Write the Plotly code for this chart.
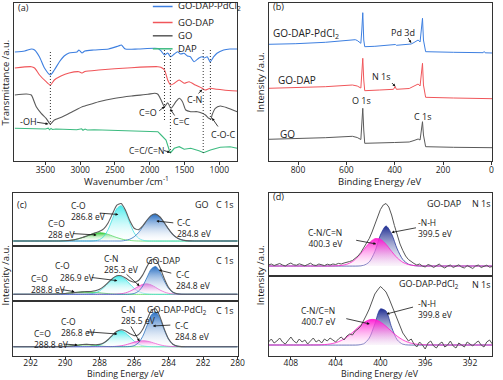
import plotly.graph_objects as go

W, H = 503, 380
FONT = "Open Sans"
INK = "#222222"

# ---------------- (a) FTIR ----------------
WN_PD = [3940, 3798, 3699, 3656, 3585, 3514, 3430, 3372, 3301, 3231, 3160, 3046, 3018, 2975, 2933,
         2805, 2592, 2451, 2408, 2351, 2167, 1883, 1841, 1788, 1742, 1699, 1647, 1600, 1557, 1505,
         1458, 1416, 1363, 1292, 1245, 1217, 1174, 1132, 1079, 1033, 938, 848, 742]
T_PD = [109, 110, 112, 111, 104, 93, 86, 91, 99, 105, 108, 109, 111, 108, 110,
        111, 112, 115, 116, 112, 112, 112.5, 110.3, 106, 108, 104.3, 107, 109.3, 107, 107.7,
        105, 104.3, 99.3, 103, 104.3, 103, 104.3, 99.3, 104.3, 107.7, 111, 112, 112]

WN_GODAP = [3940, 3703, 3656, 3585, 3490, 3430, 3372, 3277, 3160, 3018, 2971, 2933, 2734, 2266, 1883,
            1841, 1788, 1742, 1699, 1647, 1576, 1505, 1434, 1345, 1245, 1203, 1132, 1033, 938, 742]
T_GODAP = [93, 94.3, 93, 86, 79.3, 76, 81, 85, 88, 89.3, 88, 89.5, 91, 93.3, 94.3,
           93.7, 91, 81, 76, 77.7, 81, 77.7, 79.3, 76, 72.7, 71, 72.7, 71.7, 71, 70]

WN_GO = [3940, 3774, 3703, 3680, 3632, 3561, 3490, 3430, 3372, 3255, 3113, 2971, 2933, 2734, 2497,
         2262, 2025, 1930, 1883, 1837, 1788, 1742, 1695, 1624, 1576, 1529, 1482, 1411, 1316, 1245,
         1199, 1150, 1118, 1104, 1057, 986, 891, 742]
T_GO = [66, 67, 66, 62.7, 54.3, 47.7, 42.7, 37, 41, 44.3, 49.3, 54.3, 55, 59.3, 62.7,
        65, 66.7, 67.7, 66.7, 61, 54.3, 58.3, 52.7, 59.3, 62.7, 59.3, 51, 49.3, 49.3, 47.7,
        46, 42.7, 42, 46, 52.7, 55, 53.3, 49.3]

WN_DAP = [3940, 3800, 3650, 3500, 3460, 3440, 3420, 3400, 3350, 3200, 3050, 2980, 2960, 2930, 2900,
          2800, 2600, 2400, 2200, 2025, 1883, 1837, 1766, 1720, 1700, 1647, 1576, 1505, 1411, 1292,
          1225, 1127, 986, 844, 742]
T_DAP = [32.7, 32.5, 32.3, 32, 32.8, 31.2, 32.6, 31.5, 32, 31.8, 31.2, 32.2, 30.8, 31.9, 31.0,
         31.3, 31.0, 30.6, 30.2, 29.5, 29.3, 26, 21, 11, 8.3, 12.7, 14.3, 11.7, 12.7, 10.3,
         8.3, 11, 13.7, 14.3, 12.7]

BAND_WN = [3429, 1788, 1703, 1231, 1128]
BAND_TOP = [111, 113, 113, 113, 111]
BAND_BOTTOM = [36, 41, 8, 8, 41]

# ---------------- (b) XPS survey ----------------
BE_S_PD = [922, 809, 687, 584, 563, 555, 540, 536, 532, 528, 524, 482, 401, 397, 393,
           340, 332, 320, 303, 295, 289, 285, 281, 272, 156, 34, 30, 26, -4]
I_S_PD = [116.7, 117.3, 118.7, 120.7, 121.3, 120.5, 117.7, 131, 148.3, 121, 114.3, 114.7, 115.7, 116.5, 115.7,
          116.5, 117, 118.5, 121, 119, 131, 142.7, 121, 109.3, 108.7, 108.3, 109.5, 108.2, 108]

BE_S_GODAP = [922, 809, 687, 575, 555, 540, 536, 532, 528, 524, 462, 405, 398, 393, 340,
              320, 303, 295, 289, 285, 281, 272, 156, -4]
I_S_GODAP = [72.7, 73.3, 74.3, 76, 75, 73, 86, 102.7, 81, 70.3, 71, 71.7, 74.5, 71.7, 72.5,
             75, 77, 75, 86, 97.7, 76, 63.7, 63, 62.3]

BE_S_GO = [922, 809, 687, 575, 555, 540, 536, 532, 528, 524, 401, 340, 320, 303, 295,
           289, 285, 281, 272, 156, -4]
I_S_GO = [21.7, 22.3, 23.3, 24.7, 23.5, 21.5, 36, 52.7, 31, 17.7, 18.5, 19, 20.5, 22, 21,
          31, 39.3, 26, 14.3, 13.7, 13.3]

# ---------------- (c) C 1s ----------------
BE_C = [293.0, 292.0, 291.0, 290.5, 290.0, 289.5, 289.0, 288.75, 288.5, 288.25, 288.0, 287.75,
        287.5, 287.25, 287.0, 286.75, 286.5, 286.25, 286.0, 285.75, 285.5, 285.25, 285.0, 284.75,
        284.5, 284.25, 284.0, 283.75, 283.5, 283.25, 283.0, 282.5, 282.0, 281.0, 280.0]

GO_CdO = [0, 0, 0, 0.03, 0.24, 1.1, 3.4, 5.0, 6.6, 7.85, 8.3, 7.85, 6.6, 5.0, 3.4, 2.1, 1.1, 0.55,
          0.24, 0.09, 0.03, 0, 0, 0, 0, 0, 0, 0, 0, 0, 0, 0, 0, 0, 0]
GO_CO = [0, 0, 0, 0, 0, 0, 0, 0, 0, 0.3, 1.4, 4.6, 11.7, 22.4, 32.4, 35.3, 29.0, 17.9,
         8.3, 2.9, 0.8, 0.15, 0, 0, 0, 0, 0, 0, 0, 0, 0, 0, 0, 0, 0]
GO_CC = [0, 0, 0, 0, 0, 0, 0, 0, 0, 0, 0, 0, 0, 0, 0, 0, 0.6, 1.8,
         4.2, 8.3, 14.3, 20.8, 25.6, 26.9, 24.0, 18.2, 11.8, 6.4, 3.0, 1.2, 0.4, 0, 0, 0, 0]
GO_ENV = [0, 0, 0, 0.03, 0.24, 1.1, 3.4, 5.0, 6.6, 8.15, 9.7, 12.45, 18.3, 27.4, 35.8, 37.4, 30.7, 20.25,
          12.74, 11.3, 15.1, 21.0, 25.6, 26.9, 24.0, 18.2, 11.8, 6.4, 3.0, 1.2, 0.4, 0, 0, 0, 0]

GODAP_CdO = [0, 0, 0.06, 0.26, 0.8, 1.7, 2.4, 2.5, 2.3, 2.0, 1.5, 1.06, 0.67, 0.38, 0.2, 0.09, 0.04, 0,
             0, 0, 0, 0, 0, 0, 0, 0, 0, 0, 0, 0, 0, 0, 0, 0, 0]
GODAP_CO = [0, 0, 0, 0, 0, 0, 0, 0.16, 0.53, 1.47, 3.44, 6.8, 11.2, 15.6, 18.2, 17.9, 14.8, 10.3,
            6.0, 2.9, 1.2, 0.42, 0.12, 0.03, 0, 0, 0, 0, 0, 0, 0, 0, 0, 0, 0]
GODAP_CN = [0, 0, 0, 0, 0, 0, 0, 0, 0, 0, 0, 0, 0, 0, 0.19, 0.57, 1.42, 3.0,
            5.3, 7.9, 9.9, 10.5, 9.3, 6.9, 4.3, 2.3, 1.0, 0.37, 0.12, 0.03, 0, 0, 0, 0, 0]
GODAP_CC = [0, 0, 0, 0, 0, 0, 0, 0, 0, 0, 0, 0, 0, 0, 0, 0, 0, 0.16,
            0.8, 3.0, 8.3, 17.0, 25.4, 27.8, 22.4, 13.3, 5.8, 1.8, 0.43, 0.08, 0, 0, 0, 0, 0]
GODAP_ENV = [0, 0, 0.06, 0.26, 0.8, 1.7, 2.4, 2.66, 2.83, 3.47, 4.94, 7.86, 11.87, 15.98, 18.59, 18.56, 16.26, 13.46,
             12.1, 13.8, 19.4, 27.92, 34.82, 34.73, 26.7, 15.6, 6.8, 2.17, 0.55, 0.11, 0, 0, 0, 0, 0]

PD_CdO = [0, 0, 0, 0.02, 0.21, 1.0, 2.15, 2.3, 1.98, 1.4, 0.8, 0.37, 0.14, 0.04, 0, 0, 0, 0,
          0, 0, 0, 0, 0, 0, 0, 0, 0, 0, 0, 0, 0, 0, 0, 0, 0]
PD_CO = [0, 0, 0, 0, 0, 0, 0, 0, 0.13, 0.5, 1.5, 3.6, 7.1, 11.4, 15.0, 16.0, 13.8, 9.7,
         5.6, 2.6, 1.0, 0.3, 0.08, 0, 0, 0, 0, 0, 0, 0, 0, 0, 0, 0, 0]
PD_CN = [0, 0, 0, 0, 0, 0, 0, 0, 0, 0, 0, 0, 0, 0.16, 0.42, 0.94, 1.84, 3.1,
         4.5, 5.6, 6.0, 5.6, 4.5, 3.1, 1.84, 0.94, 0.42, 0.16, 0.05, 0, 0, 0, 0, 0, 0]
PD_CC = [0, 0, 0, 0, 0, 0, 0, 0, 0, 0, 0, 0, 0, 0, 0, 0, 0, 0.2,
         1.0, 3.8, 10.4, 21.2, 31.7, 34.8, 28.0, 16.6, 7.2, 2.3, 0.54, 0.1, 0, 0, 0, 0, 0]
PD_ENV = [0, 0, 0, 0.02, 0.21, 1.0, 2.15, 2.3, 2.11, 1.9, 2.3, 3.97, 7.24, 11.6, 15.42, 16.94, 15.64, 13.0,
          11.1, 12.0, 17.4, 27.1, 36.28, 37.9, 29.84, 17.54, 7.62, 2.46, 0.59, 0.1, 0, 0, 0, 0, 0]

# ---------------- (d) N 1s ----------------
BE_D = [410.0, 409.5, 409.0, 408.5, 408.0, 407.5, 407.0, 406.5, 406.0, 405.5, 405.0, 404.5, 404.0, 403.5,
        403.0, 402.5, 402.0, 401.5, 401.0, 400.5, 400.0, 399.5, 399.0, 398.5, 398.0, 397.5, 397.0, 396.5,
        396.0, 395.5, 395.0, 394.5, 394.0, 393.5, 393.0, 392.5, 392.0, 391.5, 391.0, 390.5, 390.0]
N1_CN = [0, 0, 0, 0, 0, 0, 0, 0, 0, 0, 0, 0, 0.16, 0.58, 1.76, 4.4, 9.3, 16.1, 23.0, 27.3, 26.8,
         21.7, 14.6, 8.1, 3.7, 1.43, 0.45, 0.12, 0, 0, 0, 0, 0, 0, 0, 0, 0, 0, 0, 0, 0]
N1_NH = [0, 0, 0, 0, 0, 0, 0, 0, 0, 0, 0, 0, 0, 0, 0, 0, 0.05, 0.68, 4.0, 14.4, 31.0,
         40.0, 32.0, 17.0, 6.5, 1.8, 0.4, 0, 0, 0, 0, 0, 0, 0, 0, 0, 0, 0, 0, 0, 0]
N2_CN = [0, 0, 0, 0, 0, 0, 0, 0, 0.05, 0.15, 0.42, 1.04, 2.3, 4.5, 7.9, 12.5, 17.6, 22.3, 25.2, 25.5, 23.0,
         18.7, 13.5, 8.8, 5.1, 2.6, 1.2, 0.5, 0.2, 0.07, 0, 0, 0, 0, 0, 0, 0, 0, 0, 0, 0]
N2_NH = [0, 0, 0, 0, 0, 0, 0, 0, 0, 0, 0, 0, 0, 0, 0, 0, 0.12, 1.2, 6.9, 21.1, 36.0,
         33.9, 17.7, 5.1, 0.8, 0.1, 0, 0, 0, 0, 0, 0, 0, 0, 0, 0, 0, 0, 0, 0, 0]

BE_R = [410.0, 409.75, 409.5, 409.25, 409.0, 408.75, 408.5, 408.25, 408.0, 407.75,
        407.5, 407.25, 407.0, 406.75, 406.5, 406.25, 406.0, 405.75, 405.5, 405.25,
        405.0, 404.75, 404.5, 404.25, 404.0, 403.75, 403.5, 403.25, 403.0, 402.75,
        402.5, 402.25, 402.0, 401.75, 401.5, 401.25, 401.0, 400.75, 400.5, 400.25,
        400.0, 399.75, 399.5, 399.25, 399.0, 398.75, 398.5, 398.25, 398.0, 397.75,
        397.5, 397.25, 397.0, 396.75, 396.5, 396.25, 396.0, 395.75, 395.5, 395.25,
        395.0, 394.75, 394.5, 394.25, 394.0, 393.75, 393.5, 393.25, 393.0, 392.75,
        392.5, 392.25, 392.0, 391.75, 391.5, 391.25, 391.0, 390.75, 390.5, 390.25,
        390.0]
RAW_N1 = [1.0, 2.0, 0.5, 1.5, 2.5, 1.0, 0.0, 1.8, 3.0, 1.2,
          0.8, 2.2, 1.0, 0.2, 1.5, 2.8, 1.0, 0.5, 2.0, 1.2,
          0.4, 1.8, 1.0, 2.0, 1.5, 2.6, 2.0, 3.0, 3.5, 4.5,
          5.5, 7.5, 10.0, 13.5, 18.0, 22.5, 27.5, 34.0, 41.5, 49.5,
          56.5, 61.0, 62.5, 59.0, 51.0, 40.5, 30.0, 22.0, 15.5, 10.0,
          6.5, 4.0, 2.5, 1.0, 2.0, 0.0, -1.0, 1.5, 0.5, -1.5,
          0.5, 2.0, -0.5, -2.0, 0.0, 1.0, -1.5, -0.5, 1.2, -1.0,
          -2.0, 0.5, -1.0, -2.5, 0.0, 1.0, -1.5, -0.5, 0.8, -1.2,
          -0.5]
RAW_N2 = [3, 6, 2, 4, 7, 3, 1, 5, 8, 4,
          2, 6, 3, 5, 1, 4, 7, 3, 5, 2,
          6, 4, 7, 5, 3, 6, 8, 5, 9, 11,
          10, 14, 16, 19, 24, 30, 36, 44, 51, 55,
          58.5, 56, 53, 47, 40, 33, 25, 18, 12, 8,
          4, 6, 1, -2, 3, 0, -4, 2, 4, -1,
          -3, 1, 3, -2, 0, 4, -1, -3, 2, 0,
          -2, 3, 1, -1, 2, 4, 0, -2, 3, 5,
          1]

fig = go.Figure()


def axes(n, x0, x1, y0, y1, xrange, yrange, tickvals=None, standoff=-2):
    s = "" if n == 1 else str(n)
    frame = dict(showline=True, mirror=True, linecolor="#333", linewidth=1,
                 showgrid=False, zeroline=False, fixedrange=True)
    xa = dict(frame, domain=[x0 / W, x1 / W], range=xrange, anchor="y" + s,
              tickvals=tickvals or [], ticks="outside" if tickvals else "",
              ticklen=3, tickcolor="#333", showticklabels=bool(tickvals),
              ticklabelstandoff=standoff,
              tickfont=dict(size=8.5, color=INK, family=FONT))
    ya = dict(frame, domain=[1 - y1 / H, 1 - y0 / H], range=yrange, anchor="x" + s,
              showticklabels=False, ticks="")
    fig.update_layout(**{"xaxis" + s: xa, "yaxis" + s: ya})


def line(n, x, y, color, width=1.1, shape="spline"):
    s = "" if n == 1 else str(n)
    fig.add_trace(go.Scatter(x=x, y=y, mode="lines", hoverinfo="skip",
                             line=dict(color=color, width=width, shape=shape, smoothing=0.6),
                             xaxis="x" + s, yaxis="y" + s))


def peak(n, x, y, color, top, bottom="rgba(255,255,255,0.15)"):
    s = "" if n == 1 else str(n)
    fig.add_trace(go.Scatter(x=x, y=y, mode="lines", hoverinfo="skip", fill="tozeroy",
                             fillgradient=dict(type="vertical", colorscale=[[0, bottom], [1, top]]),
                             line=dict(color=color, width=0.8, shape="spline", smoothing=0.8),
                             xaxis="x" + s, yaxis="y" + s))


notes = []
shapes = []


def note(text, x, y, anchor="center", size=9, angle=0):
    notes.append(dict(text=text, x=x / W, y=1 - y / H, xref="paper", yref="paper",
                      xanchor=anchor, yanchor="middle", showarrow=False, textangle=angle,
                      align=anchor if anchor != "center" else "center",
                      font=dict(size=size, color=INK, family=FONT)))


def pair(top, bottom, x, y, anchor="left"):
    # two stacked labels (name above binding energy)
    note(top + "<br>" + bottom, x, y, anchor, 8.5)


def arrow(x0, y0, x1, y1):
    notes.append(dict(text="", x=x1 / W, y=1 - y1 / H, xref="paper", yref="paper",
                      ax=x0 - x1, ay=y0 - y1, axref="pixel", ayref="pixel", showarrow=True,
                      arrowhead=2, arrowsize=0.7, arrowwidth=0.8, arrowcolor="#111", standoff=0))


BLUE, RED, GREY, GREEN = "#3d7fe0", "#f0565a", "#5a5a5a", "#3dbb80"

# (a)
axes(1, 14, 240.7, 3, 161, [3955, 740], [0, 158], [3500, 3000, 2500, 2000, 1500, 1000])
line(1, WN_PD, T_PD, BLUE)
line(1, WN_GODAP, T_GODAP, RED)
line(1, WN_GO, T_GO, GREY)
line(1, WN_DAP, T_DAP, GREEN, shape="linear")
for wn, top, bot in zip(BAND_WN, BAND_TOP, BAND_BOTTOM):
    shapes.append(dict(type="line", xref="x", yref="y", x0=wn, x1=wn, y0=bot, y1=top,
                       line=dict(color="#333", width=1, dash="1px,2px")))
for i, (name, col) in enumerate([("GO-DAP-PdCl<sub>2</sub>", BLUE), ("GO-DAP", RED),
                                  ("GO", GREY), ("DAP", GREEN)]):
    yy = [6.5, 22.5, 35.8, 48.8][i]
    shapes.append(dict(type="line", xref="paper", yref="paper", x0=155 / W, x1=175 / W,
                       y0=1 - yy / H, y1=1 - yy / H, line=dict(color=col, width=1.5)))
    note(name, 178, yy, "left", 9.5)
note("(a)", 16, 8, "left")
note("-OH", 29, 121.5)
arrow(36, 122, 49, 124)
note("C=O", 150, 113)
arrow(160, 112, 167, 106.5)
note("C=C", 184, 121.5)
arrow(178, 117, 172.7, 109)
note("C-N", 197, 100)
arrow(200, 95, 205, 89.5)
note("C-O-C", 226, 134)
arrow(222, 128, 215, 118)
note("C=C/C=N", 149, 150, size=8.5)
arrow(165, 150, 172.5, 152.5)
note("Transmittance /a.u.", 5.5, 82, size=9.5, angle=-90)
note("Wavenumber /cm<sup>-1</sup>", 128, 181, size=9.5)

# (b)
axes(2, 272.3, 499.3, 3, 161, [922, -4], [0, 158], [800, 600, 400, 200, 0])
line(2, BE_S_PD, I_S_PD, BLUE, 1, "linear")
line(2, BE_S_GODAP, I_S_GODAP, RED, 1, "linear")
line(2, BE_S_GO, I_S_GO, GREY, 1, "linear")
note("(b)", 275, 7, "left")
note("GO-DAP-PdCl<sub>2</sub>", 275, 33.5, "left", 10)
note("Pd 3d", 409, 32)
arrow(413, 36.5, 417, 43)
note("GO-DAP", 280, 80, "left", 10)
note("N 1s", 387, 77)
arrow(396, 81.5, 401, 86.5)
note("O 1s", 367, 100.5)
note("C 1s", 428, 116.5)
note("GO", 282, 134, "left", 10)
note("Intensity /a.u.", 264, 82, size=9.5, angle=-90)
note("Binding Energy /eV", 385.8, 181, size=9.5)

# (c)
C_RANGE = [293.03, 280]
axes(3, 13, 241, 193, 246, C_RANGE, [-5, 48])
axes(4, 13, 241, 246, 301, C_RANGE, [-6.7, 48.3])
axes(5, 13, 241, 301, 356, C_RANGE, [-9.3, 45.7], [292, 290, 288, 286, 284, 282, 280], -4)
GRN = ("#2fcf3a", "rgba(40,200,40,0.95)")
CYN = ("#40dde0", "rgba(60,235,235,0.95)")
MAG = ("#ee44cc", "rgba(255,60,210,0.9)")
BLU = ("#2f74c0", "rgba(25,100,190,0.95)")
for n, comps, env in [(3, [(GO_CdO, GRN), (GO_CO, CYN), (GO_CC, BLU)], GO_ENV),
                      (4, [(GODAP_CdO, GRN), (GODAP_CO, CYN), (GODAP_CN, MAG), (GODAP_CC, BLU)], GODAP_ENV),
                      (5, [(PD_CdO, GRN), (PD_CO, CYN), (PD_CN, MAG), (PD_CC, BLU)], PD_ENV)]:
    for vals, (lc, fc) in comps:
        peak(n, BE_C, vals, lc, fc)
    line(n, BE_C, env, "#5c5c5c", 1.1)
note("(c)", 15, 204, "left")
pair("C-O", "286.8 eV", 70, 210.8)
arrow(100, 213, 120, 214.5)
pair("C=O", "288 eV", 47, 229)
arrow(73, 233.5, 98, 235)
note("GO", 205, 204)
note("C 1s", 228, 204)
pair("C-C", "284.8 eV", 177, 228)
arrow(177, 223, 158.5, 221)

pair("C-N", "285.3 eV", 103.5, 264)
arrow(127, 273, 141.5, 286)
note("GO-DAP", 165.7, 260)
note("C 1s", 228, 260)
note("C-O", 63.5, 265, size=8.5)
note("286.9 eV", 79, 277.3, size=8.5)
arrow(92, 277.3, 119, 280.7)
pair("C=O", "288.8 eV", 29, 283.8)
arrow(61, 289.3, 75.6, 291.7)
pair("C-C", "284.8 eV", 176, 280.3)
arrow(175, 273.5, 161, 270)

pair("C-N", "285.5 eV", 120.6, 315)
arrow(132, 325, 141.5, 341.5)
note("GO-DAP-PdCl<sub>2</sub>", 180, 310)
note("C 1s", 228, 310)
pair("C-O", "286.8 eV", 59.5, 326.7)
arrow(87, 331.7, 119, 334)
pair("C=O", "288.8 eV", 32, 339)
arrow(63.5, 344, 78.8, 345)
pair("C-C", "284.8 eV", 175, 331)
arrow(174, 325, 155, 326)
note("Intensity /a.u.", 5.5, 275, size=9.5, angle=-90)
note("Binding Energy /eV", 128, 373.8, size=8.8)

# (d)
D_RANGE = [410, 390]
axes(6, 272.3, 499.3, 193, 276, D_RANGE, [-10, 73])
axes(7, 272.3, 499.3, 276, 356, D_RANGE, [-11, 69], [408, 404, 400, 396, 392], -4)
NAVY = ("#2a3a9a", "rgba(20,35,140,0.95)")
PINK = ("#ff22cc", "rgba(255,20,210,0.95)")
for n, nh, cn, raw in [(6, N1_NH, N1_CN, RAW_N1), (7, N2_NH, N2_CN, RAW_N2)]:
    peak(n, BE_D, nh, NAVY[0], NAVY[1], "rgba(235,235,245,0.3)")
    peak(n, BE_D, cn, PINK[0], PINK[1], "rgba(255,235,250,0.3)")
    line(n, BE_R, raw, "#555", 1, "linear")
note("(d)", 275, 196.5, "left")
note("GO-DAP", 450, 203.5)
note("N 1s", 488, 203.5)
pair("-N-H", "399.5 eV", 422, 228.3)
arrow(423, 227.5, 397, 232.5)
pair("C-N/C=N", "400.3 eV", 350, 238, "right")
arrow(360, 240, 381.5, 244)
note("GO-DAP-PdCl<sub>2</sub>", 435, 284)
note("N 1s", 488, 284)
pair("-N-H", "399.8 eV", 422, 309)
arrow(420, 306.7, 392, 314)
pair("C-N/C=N", "400.7 eV", 343, 316, "right")
arrow(350, 318.3, 375, 324)
note("Intensity /a.u.", 264, 275, size=9.5, angle=-90)
note("Binding Energy /eV", 385.8, 373.8, size=8.8)

fig.update_layout(width=W, height=H, margin=dict(l=0, r=0, t=0, b=0),
                  paper_bgcolor="white", plot_bgcolor="white", showlegend=False,
                  font=dict(family=FONT, color=INK), annotations=notes, shapes=shapes)
fig.write_html("out.html", config={"displayModeBar": False},
               post_script="document.body.style.margin='0';document.body.style.overflow='hidden';")
